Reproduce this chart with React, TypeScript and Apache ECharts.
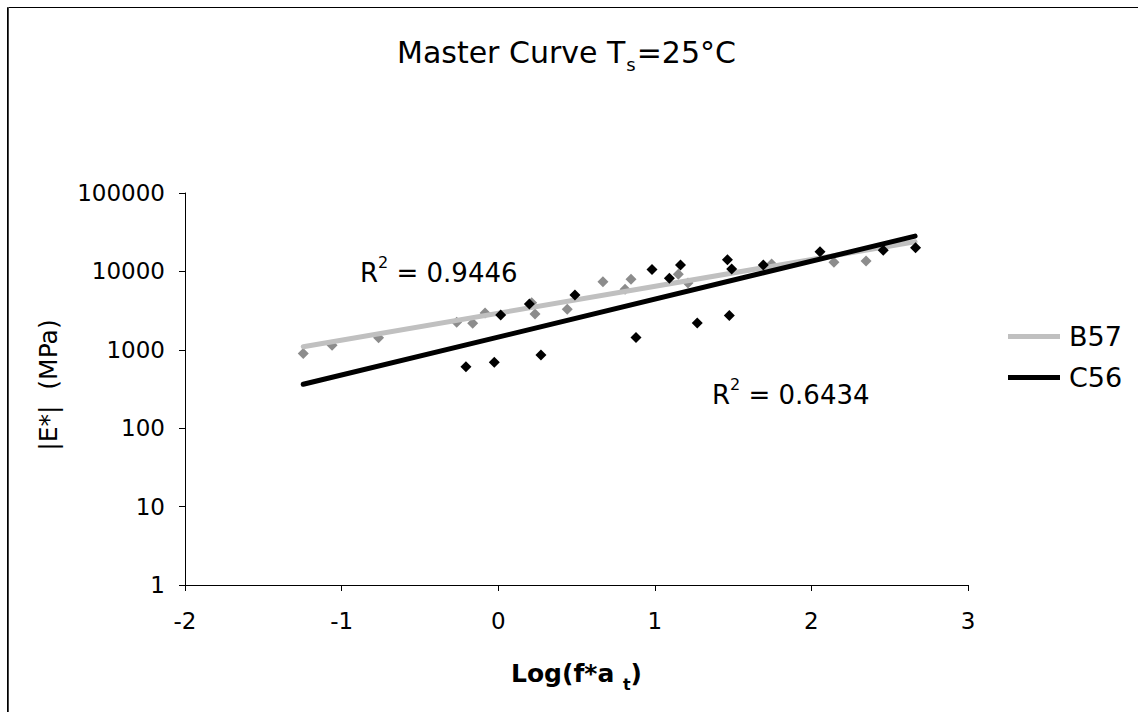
import React, { useEffect, useRef } from "react";
import * as echarts from "echarts";

const b57Points: [number, number][] = [
  [-1.245, 900], [-1.061, 1140], [-0.764, 1420], [-0.265, 2240], [-0.163, 2180],
  [-0.084, 2950], [0.214, 3990], [0.235, 2870], [0.441, 3300], [0.669, 7400],
  [0.81, 5910], [0.848, 7920], [1.15, 9190], [1.212, 7110], [1.746, 12400],
  [2.144, 13100], [2.349, 13600],
];
const c56Points: [number, number][] = [
  [-0.206, 608], [-0.025, 693], [0.273, 859], [0.016, 2780], [0.199, 3840],
  [0.49, 5000], [0.88, 1440], [0.982, 10600], [1.093, 8170], [1.164, 12100],
  [1.271, 2200], [1.464, 14100], [1.476, 2740], [1.491, 10700], [1.693, 12100],
  [2.055, 17800], [2.459, 18600], [2.665, 20000],
];
const b57Trend: [number, number][] = [[-1.245, 1096], [2.662, 23900]];
const c56Trend: [number, number][] = [[-1.245, 363], [2.662, 28200]];
const xTicks = { min: -2, max: 3, interval: 1 };
const yRange = { min: 1, max: 100000 };
const r2Labels = ["0.9446", "0.6434"];

const FONT = "'DejaVu Sans', sans-serif";

export default function App() {
  const ref = useRef<HTMLDivElement>(null);
  useEffect(() => {
    const chart = echarts.init(ref.current!, undefined, { renderer: "svg" });
    const r2Rich = {
      a: { fontSize: 26, fontFamily: FONT, fill: "#000", verticalAlign: "bottom", lineHeight: 32 },
      s: { fontSize: 16, fontFamily: FONT, fill: "#000", verticalAlign: "top", lineHeight: 32, padding: [0, 0, 12, 0] },
    };
    chart.setOption({
      animation: false,
      backgroundColor: "#ffffff",
      textStyle: { fontFamily: FONT, color: "#000" },
      grid: { left: 185, right: 170, top: 193, bottom: 127 },
      title: {
        text: "{a|Master Curve T}{s|s}{a|=25°C}",
        left: 392,
        top: 28,
        textStyle: {
          fontWeight: "normal",
          rich: {
            a: { fontSize: 30, fontWeight: "normal", fontFamily: FONT, color: "#000", verticalAlign: "bottom", lineHeight: 34 },
            s: { fontSize: 18, fontWeight: "normal", fontFamily: FONT, color: "#000", verticalAlign: "bottom", lineHeight: 24, padding: [0, 1, -6, 1] },
          },
        },
      },
      legend: {
        orient: "vertical",
        left: 1003,
        top: 318,
        itemWidth: 52,
        itemHeight: 5,
        itemGap: 14,
        textStyle: { fontSize: 27, fontFamily: FONT, color: "#000", padding: [0, 0, 0, 4] },
        data: [
          { name: "B57", icon: "rect" },
          { name: "C56", icon: "rect" },
        ],
      },
      xAxis: {
        type: "value",
        min: xTicks.min,
        max: xTicks.max,
        interval: xTicks.interval,
        name: "{b|Log(f*a }{t|t}{b|)}",
        nameLocation: "middle",
        nameGap: 71,
        nameTextStyle: {
          rich: {
            b: { fontSize: 25, fontWeight: "bold", fontFamily: FONT, color: "#000", verticalAlign: "bottom", lineHeight: 30 },
            t: { fontSize: 16, fontWeight: "bold", fontFamily: FONT, color: "#000", verticalAlign: "bottom", lineHeight: 22, padding: [0, 0, -6, 0] },
          },
        },
        axisLine: { onZero: false, lineStyle: { color: "#000", width: 1 } },
        axisTick: { show: true, length: 6, inside: false, lineStyle: { color: "#000" } },
        axisLabel: { fontSize: 23, color: "#000", margin: 24, fontFamily: FONT },
        splitLine: { show: false },
      },
      yAxis: {
        type: "log",
        logBase: 10,
        min: yRange.min,
        max: yRange.max,
        name: "|E*|  (MPa)",
        nameLocation: "middle",
        nameGap: 124,
        nameRotate: 90,
        nameTextStyle: { fontSize: 25, fontFamily: FONT, color: "#000", padding: [0, 0, 0, 8] },
        axisLine: { show: true, onZero: false, lineStyle: { color: "#000", width: 1 } },
        axisTick: { show: true, length: 6, lineStyle: { color: "#000" } },
        axisLabel: {
          fontSize: 23,
          color: "#000",
          margin: 20,
          fontFamily: FONT,
          formatter: (v: number) => String(Math.round(v)),
        },
        splitLine: { show: false },
      },
      series: [
        {
          name: "B57",
          type: "line",
          data: b57Trend,
          symbol: "none",
          lineStyle: { color: "#c0c0c0", width: 5, cap: "round" },
          itemStyle: { color: "#c0c0c0" },
          z: 3,
        },
        {
          name: "C56",
          type: "line",
          data: c56Trend,
          symbol: "none",
          lineStyle: { color: "#000000", width: 5, cap: "round" },
          itemStyle: { color: "#000000" },
          z: 3,
        },
        {
          name: "B57 data",
          type: "scatter",
          data: b57Points,
          symbol: "diamond",
          symbolSize: 11,
          itemStyle: { color: "#8c8c8c", opacity: 1 },
          z: 2,
        },
        {
          name: "C56 data",
          type: "scatter",
          data: c56Points,
          symbol: "diamond",
          symbolSize: 11,
          itemStyle: { color: "#000000", opacity: 1 },
          z: 4,
        },
      ],
      graphic: [
        {
          type: "rect",
          shape: { x: 7.5, y: 7.5, width: 1200, height: 800 },
          style: { fill: "none", stroke: "#000", lineWidth: 1 },
          silent: true,
        },
        {
          type: "line",
          shape: { x1: 8.5, y1: 7, x2: 8.5, y2: 712 },
          style: { stroke: "#444", lineWidth: 1 },
          silent: true,
        },
        {
          type: "text",
          left: 360,
          top: 254,
          style: { text: "{a|R}{s|2}{a| = " + r2Labels[0] + "}", rich: r2Rich },
        },
        {
          type: "text",
          left: 712,
          top: 376,
          style: { text: "{a|R}{s|2}{a| = " + r2Labels[1] + "}", rich: r2Rich },
        },
      ],
    });
    return () => chart.dispose();
  }, []);
  return (
    <div
      ref={ref}
      style={{ position: "fixed", left: 0, top: 0, width: 1138, height: 712, background: "#fff" }}
    />
  );
}
